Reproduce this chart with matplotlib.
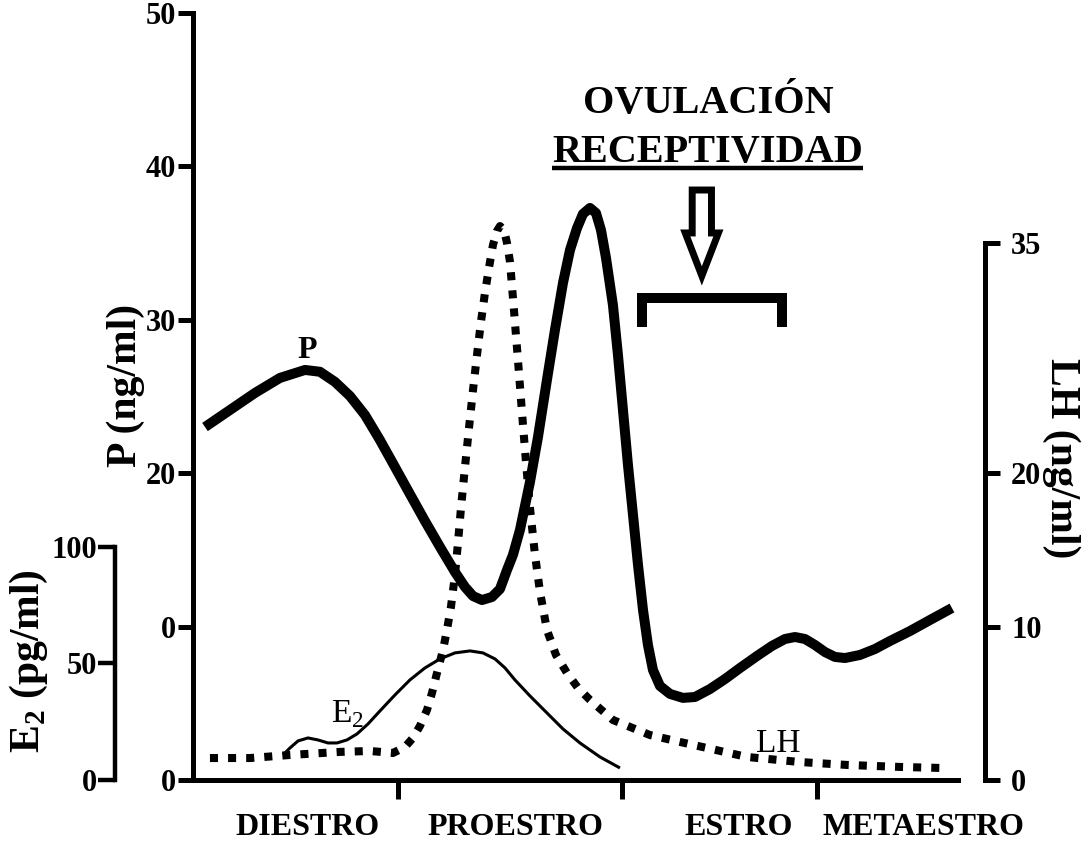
import matplotlib.pyplot as plt
from matplotlib.patches import FancyArrow

plt.rcParams['font.family'] = ['Liberation Serif', 'DejaVu Serif']
plt.rcParams['font.weight'] = 'bold'
plt.rcParams['axes.labelweight'] = 'bold'
plt.rcParams['mathtext.fontset'] = 'custom'
plt.rcParams['mathtext.rm'] = 'Liberation Serif:bold'

# time through the cycle (% of cycle length)
p_time = [1.56, 4.80, 8.04, 11.28, 14.53, 16.47, 18.42, 20.36, 22.31, 24.25,
          26.20, 28.14, 30.09, 32.04, 33.98, 35.28, 36.32, 37.48, 38.78, 39.82,
          40.73, 41.50, 42.41, 43.71, 44.75, 45.91, 46.95, 47.99, 48.90, 49.81,
          50.58, 51.49, 52.27, 52.92, 53.57, 54.47, 55.12, 55.77, 56.42, 57.07,
          57.72, 58.37, 59.01, 59.66, 60.57, 61.87, 63.55, 65.11, 67.06, 69.00,
          70.95, 73.15, 75.10, 76.78, 78.08, 79.38, 80.67, 81.97, 83.27, 84.57,
          86.51, 88.46, 90.40, 93.00, 95.59, 98.44]
p_ngml = [23.01, 24.12, 25.23, 26.21, 26.73, 26.61, 25.95, 25.03, 23.79, 22.16,
          20.40, 18.64, 16.88, 15.19, 13.56, 12.58, 11.99, 11.73, 11.93, 12.45,
          13.69, 14.67, 16.30, 19.43, 22.36, 26.08, 29.34, 32.40, 34.55, 35.98,
          36.90, 37.29, 36.96, 35.85, 34.03, 30.96, 27.71, 24.12, 20.53, 17.28,
          14.02, 11.08, 8.80, 7.17, 6.13, 5.61, 5.35, 5.41, 5.93, 6.58,
          7.30, 8.08, 8.74, 9.19, 9.32, 9.19, 8.80, 8.34, 8.02, 7.95,
          8.15, 8.54, 9.06, 9.71, 10.43, 11.21]

lh_time = [2.20, 7.39, 12.58, 19.07, 22.96, 25.94, 27.50, 28.53, 29.44, 30.35,
           31.00, 31.65, 32.43, 32.94, 33.46, 33.98, 34.37, 34.76, 35.28, 35.80,
           36.32, 36.84, 37.35, 37.87, 38.39, 38.91, 39.43, 39.82, 40.34, 40.73,
           41.12, 41.63, 42.15, 42.67, 43.19, 43.71, 44.36, 45.01, 45.91, 47.08,
           48.51, 49.94, 51.49, 54.47, 59.27, 63.16, 71.85, 78.73, 84.82, 91.70,
           97.28]
lh_ngml = [1.43, 1.43, 1.63, 1.83, 1.89, 1.76, 2.15, 2.74, 3.52, 4.56,
           5.67, 6.98, 8.47, 9.78, 11.28, 13.36, 15.45, 17.73, 20.40, 22.95,
           25.42, 27.71, 29.86, 31.75, 33.38, 34.88, 35.79, 36.11, 35.85, 35.01,
           33.77, 30.64, 27.38, 23.99, 20.73, 17.73, 14.67, 12.26, 9.78, 8.15,
           6.98, 6.00, 5.22, 3.91, 2.93, 2.48, 1.50, 1.17, 0.98, 0.85,
           0.78]

e2_time = [11.67, 12.58, 13.62, 14.92, 16.21, 17.51, 18.68, 19.97, 21.27, 22.70,
           24.25, 26.20, 28.14, 30.09, 32.04, 33.98, 35.93, 37.61, 39.17, 40.47,
           41.76, 43.71, 45.91, 47.99, 50.19, 52.79, 55.38]
e2_pgml = [10.73, 13.73, 16.74, 18.03, 17.17, 15.88, 15.88, 17.17, 19.74, 24.03,
           29.61, 36.48, 42.92, 48.07, 51.93, 54.51, 55.36, 54.51, 51.93, 48.07,
           42.92, 36.05, 28.76, 21.89, 15.88, 9.87, 5.15]

stage_bounds = [26.6, 55.6, 80.9]
stage_centers = [14.9, 41.8, 70.8, 94.8]
stage_names = ['DIESTRO', 'PROESTRO', 'ESTRO', 'METAESTRO']

p_ticks = [0, 10, 20, 30, 40, 50]
p_tick_labels = ['0', '0', '20', '30', '40', '50']
e2_ticks = [0, 50, 100]
lh_ticks = [0, 10, 20, 35]

# receptive window in estrus and the ovulation marker
receptive_window = (58.2, 76.4)
ovulation_time = 66.0

fig = plt.figure(figsize=(10.89, 8.49), dpi=100)
ax = fig.add_axes([0.1772, 0.0813, 0.708, 0.9034])
ax_e2 = ax.twinx()
ax_lh = ax.twinx()

# --- progesterone axis (main) ---
ax.set_xlim(0, 100)
ax.set_ylim(0, 50)
for s in ['top', 'right']:
    ax.spines[s].set_visible(False)
ax.spines['left'].set_bounds(0, 50)
ax.spines['bottom'].set_bounds(0, 99.2)
for s in ['left', 'bottom']:
    ax.spines[s].set_linewidth(3.6)
ax.set_yticks(p_ticks, labels=p_tick_labels)
ax.tick_params(axis='y', length=11, width=3.6, pad=1.5, labelsize=22)
ax.set_xticks(stage_bounds, labels=[])
ax.set_xticks(stage_centers, labels=stage_names, minor=True)
ax.tick_params(axis='x', which='major', length=14, width=3.6)
ax.tick_params(axis='x', which='minor', length=0, pad=24, labelsize=23)
ax.set_ylabel('P (ng/ml)', fontsize=30)
ax.yaxis.set_label_coords(-0.062, 0.515)

# --- estradiol axis, offset to the left ---
ax_e2.set_ylim(0, 329)
for s in ['top', 'right', 'bottom']:
    ax_e2.spines[s].set_visible(False)
ax_e2.yaxis.tick_left()
ax_e2.yaxis.set_label_position('left')
ax_e2.spines['left'].set_position(('outward', 56))
ax_e2.spines['left'].set_bounds(0, 100)
ax_e2.spines['left'].set_linewidth(3.2)
ax_e2.set_yticks(e2_ticks)
ax_e2.tick_params(axis='y', length=12, width=3.2, pad=1, labelsize=22)
ax_e2.set_ylabel(r'E$_\mathregular{2}$ (pg/ml)', fontsize=30)
ax_e2.yaxis.set_label_coords(-0.185, 0.155)

# --- LH axis on the right ---
ax_lh.set_ylim(0, 50)
for s in ['top', 'left', 'bottom']:
    ax_lh.spines[s].set_visible(False)
ax_lh.spines['right'].set_position(('outward', 15))
ax_lh.spines['right'].set_bounds(0, 35)
ax_lh.spines['right'].set_linewidth(3.6)
ax_lh.set_yticks(lh_ticks)
ax_lh.tick_params(axis='y', length=11, width=3.6, pad=8, labelsize=22)
ax_lh.set_ylabel('LH (ng/ml)', fontsize=30, rotation=270)
ax_lh.yaxis.set_label_coords(1.151, 0.42)

# --- hormone curves ---
ax_e2.plot(e2_time, e2_pgml, color='black', lw=2.2, solid_capstyle='butt',
           solid_joinstyle='round')
ax_lh.plot(lh_time, lh_ngml, color='black', lw=5.8, dashes=(1, 1.25),
           dash_capstyle='butt')
ax.plot(p_time, p_ngml, color='black', lw=7.2, solid_capstyle='butt',
        solid_joinstyle='round', zorder=5)

ax.text(14.8, 27.5, 'P', fontsize=23, ha='center', va='baseline')
ax_e2.text(20.0, 24.9, r'E$_\mathregular{2}$', fontsize=24, fontweight='normal',
           ha='center', va='baseline')
ax_lh.text(75.9, 1.83, 'LH', fontsize=24, fontweight='normal',
           ha='center', va='baseline')

# --- ovulation / receptivity annotation ---
ax.text(66.8, 43.5, 'OVULACIÓN', fontsize=29, ha='center', va='baseline')
ax.text(66.8, 40.3, 'RECEPTIVIDAD', fontsize=29, ha='center', va='baseline')
ax.plot([46.6, 86.9], [39.9, 39.9], color='black', lw=3.2,
        solid_capstyle='butt')
ax.add_patch(FancyArrow(ovulation_time, 38.46, 0, -5.6, width=2.5,
                        head_width=4.3, head_length=2.8,
                        length_includes_head=True, fc='white', ec='black',
                        lw=5, joinstyle='miter', zorder=6))
x0, x1 = receptive_window
ax.plot([x0, x0, x1, x1], [29.5, 31.4, 31.4, 29.5], color='black', lw=7.2,
        solid_joinstyle='miter', solid_capstyle='butt')

fig.savefig('out.png', dpi=100)
